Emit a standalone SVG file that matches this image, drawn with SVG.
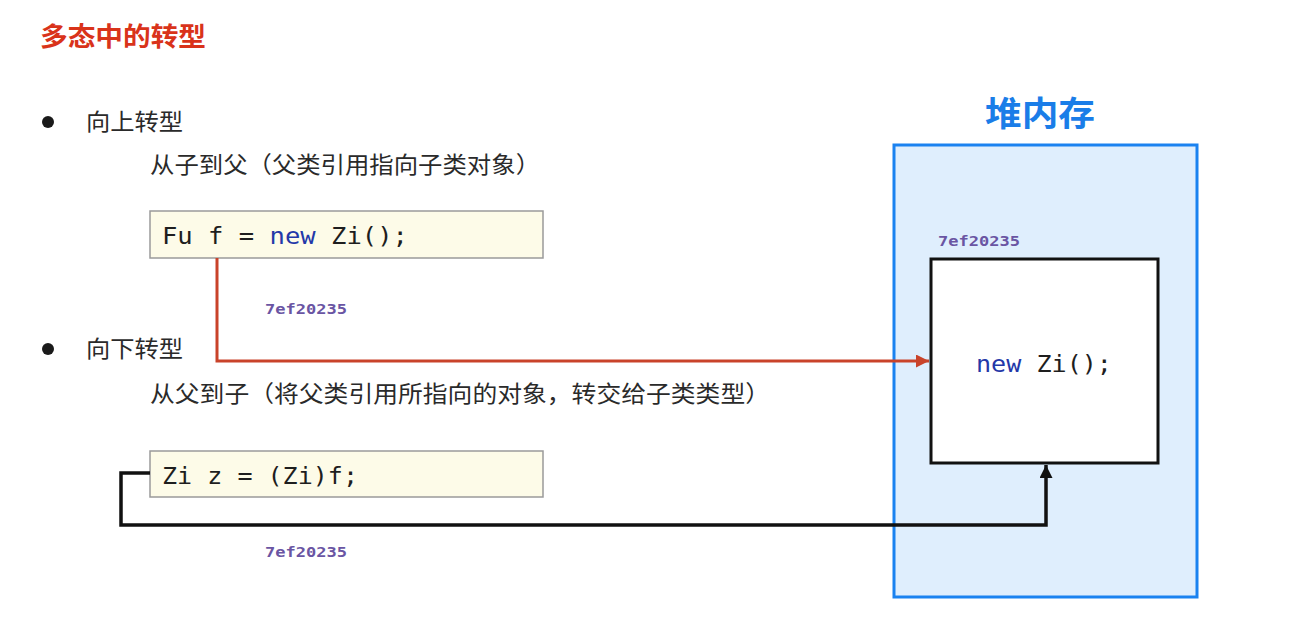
<svg xmlns="http://www.w3.org/2000/svg" width="1307" height="625" viewBox="0 0 1307 625">
<style>
.cn{font-family:"Noto Sans CJK SC","Noto Sans",sans-serif;fill:#2a2a2a}
.code{font-family:"DejaVu Sans Mono","Liberation Mono",monospace;font-size:23px;fill:#1e1e1e}
.kw{fill:#2438a8}
.addr{font-family:"DejaVu Sans Mono","Liberation Mono",monospace;font-size:14px;font-weight:bold;fill:#6a55a3}
.codebox{fill:#fdfbe8;stroke:#9a9a9a;stroke-width:1.5}
</style>
<defs>
<marker id="arrRed" viewBox="0 0 10 10" refX="10" refY="5" markerWidth="15" markerHeight="13" markerUnits="userSpaceOnUse" orient="auto"><path d="M0,0 L10,5 L0,10 z" fill="#c9432a"/></marker>
<marker id="arrBlk" viewBox="0 0 10 10" refX="10" refY="5" markerWidth="15" markerHeight="13" markerUnits="userSpaceOnUse" orient="auto"><path d="M0,0 L10,5 L0,10 z" fill="#111"/></marker>
</defs>
<rect width="1307" height="625" fill="#ffffff"/>
<text x="40" y="46" font-family="Noto Sans CJK SC,sans-serif" font-size="26" font-weight="bold" fill="#d9331a" textLength="166" lengthAdjust="spacingAndGlyphs">多态中的转型</text>

<g id="up">
<circle cx="48" cy="122" r="6" fill="#1a1a1a"/>
<text class="cn" x="86" y="130" font-size="23" textLength="97" lengthAdjust="spacingAndGlyphs">向上转型</text>
<text class="cn" x="150" y="173" font-size="23" textLength="390" lengthAdjust="spacingAndGlyphs">从子到父（父类引用指向子类对象）</text>
</g>
<g id="code1">
<rect class="codebox" x="150" y="211" width="393" height="47"/>
<text class="code" x="162" y="244" textLength="246" lengthAdjust="spacingAndGlyphs">Fu f = <tspan class="kw">new</tspan> Zi();</text>
</g>

<g id="down">
<circle cx="48" cy="349" r="6" fill="#1a1a1a"/>
<text class="cn" x="86" y="357" font-size="23" textLength="97" lengthAdjust="spacingAndGlyphs">向下转型</text>
<text class="cn" x="150" y="402" font-size="23" textLength="620" lengthAdjust="spacingAndGlyphs">从父到子（将父类引用所指向的对象，转交给子类类型）</text>
</g>
<g id="code2">
<rect class="codebox" x="150" y="451" width="393" height="46"/>
<text class="code" x="162" y="484" textLength="196" lengthAdjust="spacingAndGlyphs">Zi z = (Zi)f;</text>
</g>

<g id="heap">
<text x="1040" y="126" text-anchor="middle" font-family="Noto Sans CJK SC,sans-serif" font-size="34" font-weight="bold" fill="#1a7de8" textLength="110" lengthAdjust="spacingAndGlyphs">堆内存</text>
<rect x="894" y="145" width="303" height="452" fill="#dfeefd" stroke="#1a82f0" stroke-width="3"/>
</g>
<g id="obj">
<text class="addr" x="938" y="246" textLength="82" lengthAdjust="spacingAndGlyphs">7ef20235</text>
<rect x="931" y="259" width="227" height="204" fill="#ffffff" stroke="#111" stroke-width="3"/>
<text class="code" x="976" y="372" textLength="136" lengthAdjust="spacingAndGlyphs"><tspan class="kw">new</tspan> Zi();</text>
</g>

<g id="connectors">
<path d="M217,258 V361 H929" fill="none" stroke="#c9432a" stroke-width="3" marker-end="url(#arrRed)"/>
<text class="addr" x="265" y="314" textLength="82" lengthAdjust="spacingAndGlyphs">7ef20235</text>
<path d="M150,473 H121 V525 H1046 V465" fill="none" stroke="#111" stroke-width="3.5" marker-end="url(#arrBlk)"/>
<text class="addr" x="265" y="557" textLength="82" lengthAdjust="spacingAndGlyphs">7ef20235</text>
</g>
</svg>
